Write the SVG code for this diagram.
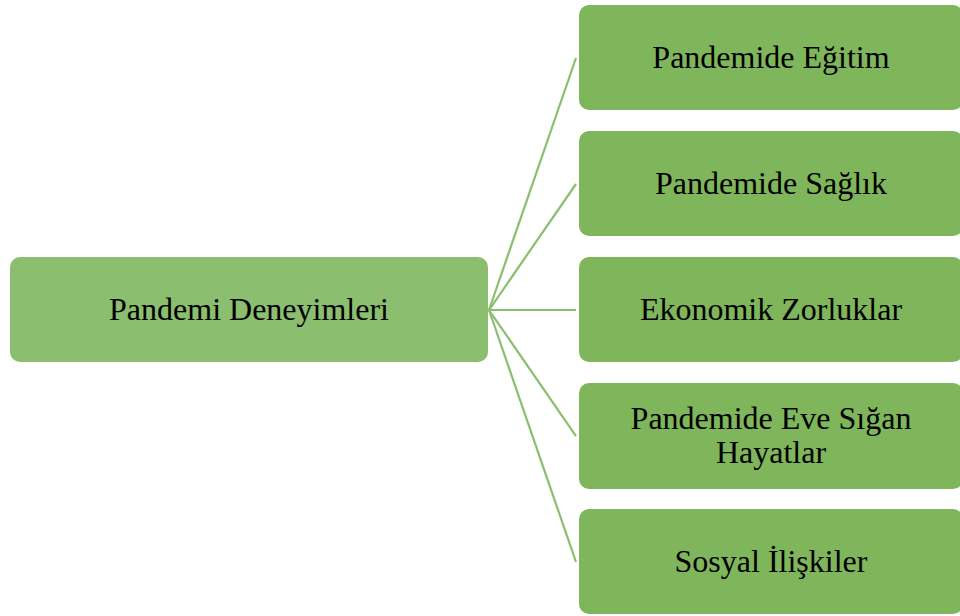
<svg xmlns="http://www.w3.org/2000/svg" width="960" height="616" viewBox="0 0 960 616">
  <style>
    .root { fill: #8BBE6E; }
    .child { fill: #7FB55B; }
    .lbl { font-family: 'Liberation Serif', 'Times New Roman', 'DejaVu Serif', serif; font-size: 32px; fill: #000; text-anchor: middle; }
    .conn { stroke: #8BBE6E; stroke-width: 2.2; fill: none; }
  </style>
  <rect width="960" height="616" fill="#fff"/>
  <g id="connectors">
    <line class="conn" x1="489" y1="310" x2="576" y2="58"/>
    <line class="conn" x1="489" y1="310" x2="576" y2="184"/>
    <line class="conn" x1="489" y1="310" x2="576" y2="310"/>
    <line class="conn" x1="489" y1="310" x2="576" y2="436"/>
    <line class="conn" x1="489" y1="310" x2="576" y2="562"/>
  </g>
  <g id="node-root">
    <rect class="root" x="10" y="257" width="478" height="105" rx="10"/>
    <text class="lbl" x="249" y="320">Pandemi Deneyimleri</text>
  </g>
  <g id="node-egitim">
    <rect class="child" x="579" y="5" width="384" height="105" rx="10"/>
    <text class="lbl" x="771" y="68">Pandemide Eğitim</text>
  </g>
  <g id="node-saglik">
    <rect class="child" x="579" y="131" width="384" height="105" rx="10"/>
    <text class="lbl" x="771" y="194">Pandemide Sağlık</text>
  </g>
  <g id="node-ekonomi">
    <rect class="child" x="579" y="257" width="384" height="105" rx="10"/>
    <text class="lbl" x="771" y="320">Ekonomik Zorluklar</text>
  </g>
  <g id="node-eve">
    <rect class="child" x="579" y="383" width="384" height="106" rx="10"/>
    <text class="lbl" x="771" y="429">Pandemide Eve Sığan</text>
    <text class="lbl" x="771" y="463">Hayatlar</text>
  </g>
  <g id="node-sosyal">
    <rect class="child" x="579" y="509" width="384" height="105" rx="10"/>
    <text class="lbl" x="771" y="572">Sosyal İlişkiler</text>
  </g>
</svg>
